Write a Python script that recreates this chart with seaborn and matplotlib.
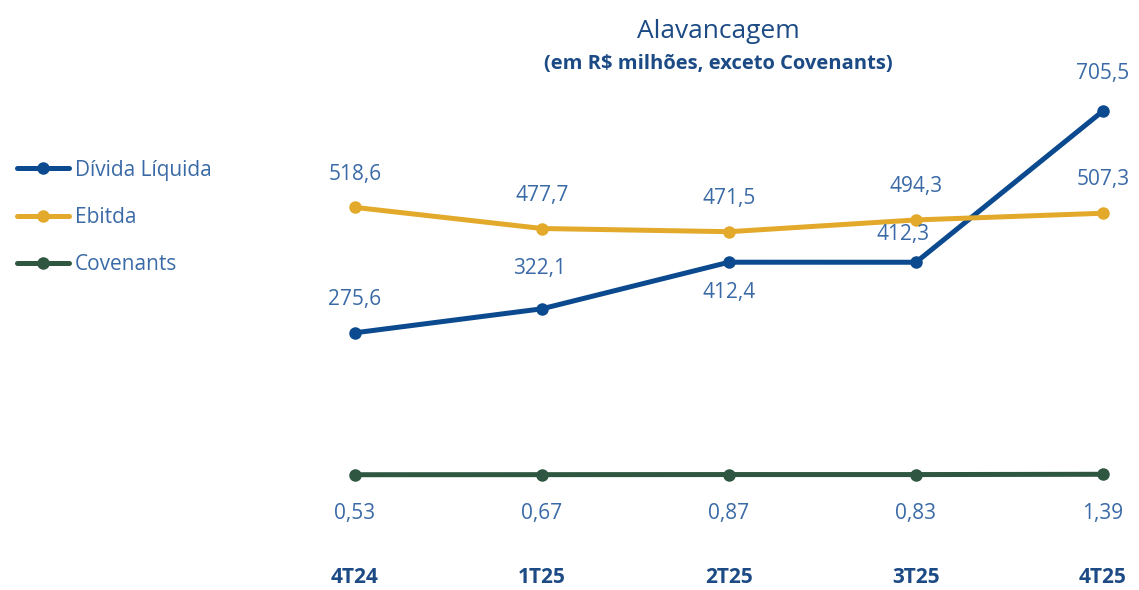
import matplotlib
matplotlib.use("Agg")
import matplotlib.pyplot as plt
import seaborn as sns
import pandas as pd
from matplotlib.lines import Line2D

categories = ["4T24", "1T25", "2T25", "3T25", "4T25"]
divida_liquida = [275.6, 322.1, 412.4, 412.3, 705.5]
ebitda = [518.6, 477.7, 471.5, 494.3, 507.3]
covenants = [0.53, 0.67, 0.87, 0.83, 1.39]
divida_labels = ["275,6", "322,1", "412,4", "412,3", "705,5"]
ebitda_labels = ["518,6", "477,7", "471,5", "494,3", "507,3"]
covenant_labels = ["0,53", "0,67", "0,87", "0,83", "1,39"]
series_names = ["Dívida Líquida", "Ebitda", "Covenants"]

sns.set_theme(style="white")
plt.rcParams["font.family"] = ["Open Sans", "DejaVu Sans"]

BLUE = "#0b4a8e"
GOLD = "#e3a92b"
GREEN = "#2e5640"
TXT = "#3a6aa6"
DARK = "#1b4a84"
palette = {series_names[0]: BLUE, series_names[1]: GOLD, series_names[2]: GREEN}

df = pd.DataFrame({
    "cat": categories * 3,
    "x": list(range(len(categories))) * 3,
    "value": divida_liquida + ebitda + covenants,
    "serie": [series_names[0]] * 5 + [series_names[1]] * 5 + [series_names[2]] * 5,
})

fig = plt.figure(figsize=(11.39, 5.90), dpi=100)
ax = fig.add_axes([355 / 1139, (590 - 475) / 590, (1103 - 355) / 1139, (475 - 62.2) / 590])

sns.lineplot(data=df, x="x", y="value", hue="serie", palette=palette, marker="o",
             markersize=9, markeredgewidth=0, linewidth=3.6, ax=ax, legend=False,
             clip_on=False, sort=False)
for ln in ax.get_lines():
    ln.set_clip_on(False)
    ln.set_solid_capstyle("round")

ax.set_xlim(0, 4)
ax.set_ylim(0, 800)
ax.axis("off")

fs = 15
div_off = [(0, 24), (-2, 29), (0, -22), (-9, 20), (0, 27)]
for i, (v, lab) in enumerate(zip(divida_liquida, divida_labels)):
    dx, dy = div_off[i]
    ax.annotate(lab, (i, v), xytext=(dx, dy), textcoords="offset points",
                ha="center", va="center", fontsize=fs, color=TXT)
for i, (v, lab) in enumerate(zip(ebitda, ebitda_labels)):
    ax.annotate(lab, (i, v), xytext=(0, 24), textcoords="offset points",
                ha="center", va="center", fontsize=fs, color=TXT)
for i, (v, lab) in enumerate(zip(covenants, covenant_labels)):
    ax.annotate(lab, (i, v), xytext=(0, -28), textcoords="offset points",
                ha="center", va="center", fontsize=fs, color=TXT)
for i, c in enumerate(categories):
    ax.annotate(c, (i, 0), xytext=(0, -74), textcoords="offset points",
                ha="center", va="center", fontsize=15, fontweight="bold", color=DARK)

fig.text(718 / 1139, 1 - 31 / 590, "Alavancagem", ha="center", va="center",
         fontsize=19, color=DARK)
fig.text(718 / 1139, 1 - 64 / 590, "(em R$ milhões, exceto Covenants)", ha="center",
         va="center", fontsize=14.5, fontweight="bold", color=DARK)

handles = [Line2D([0], [0], color=palette[n], lw=3.6, marker="o", markersize=9,
                  markeredgewidth=0, solid_capstyle="round") for n in series_names]
leg = fig.legend(handles, series_names, loc="upper left",
                 bbox_to_anchor=(-2 / 1139, 1 - 141 / 590), frameon=False,
                 fontsize=15, handlelength=2.5, labelspacing=1.26, handletextpad=0.3)
for t in leg.get_texts():
    t.set_color(TXT)

fig.savefig("out.png", dpi=100)
